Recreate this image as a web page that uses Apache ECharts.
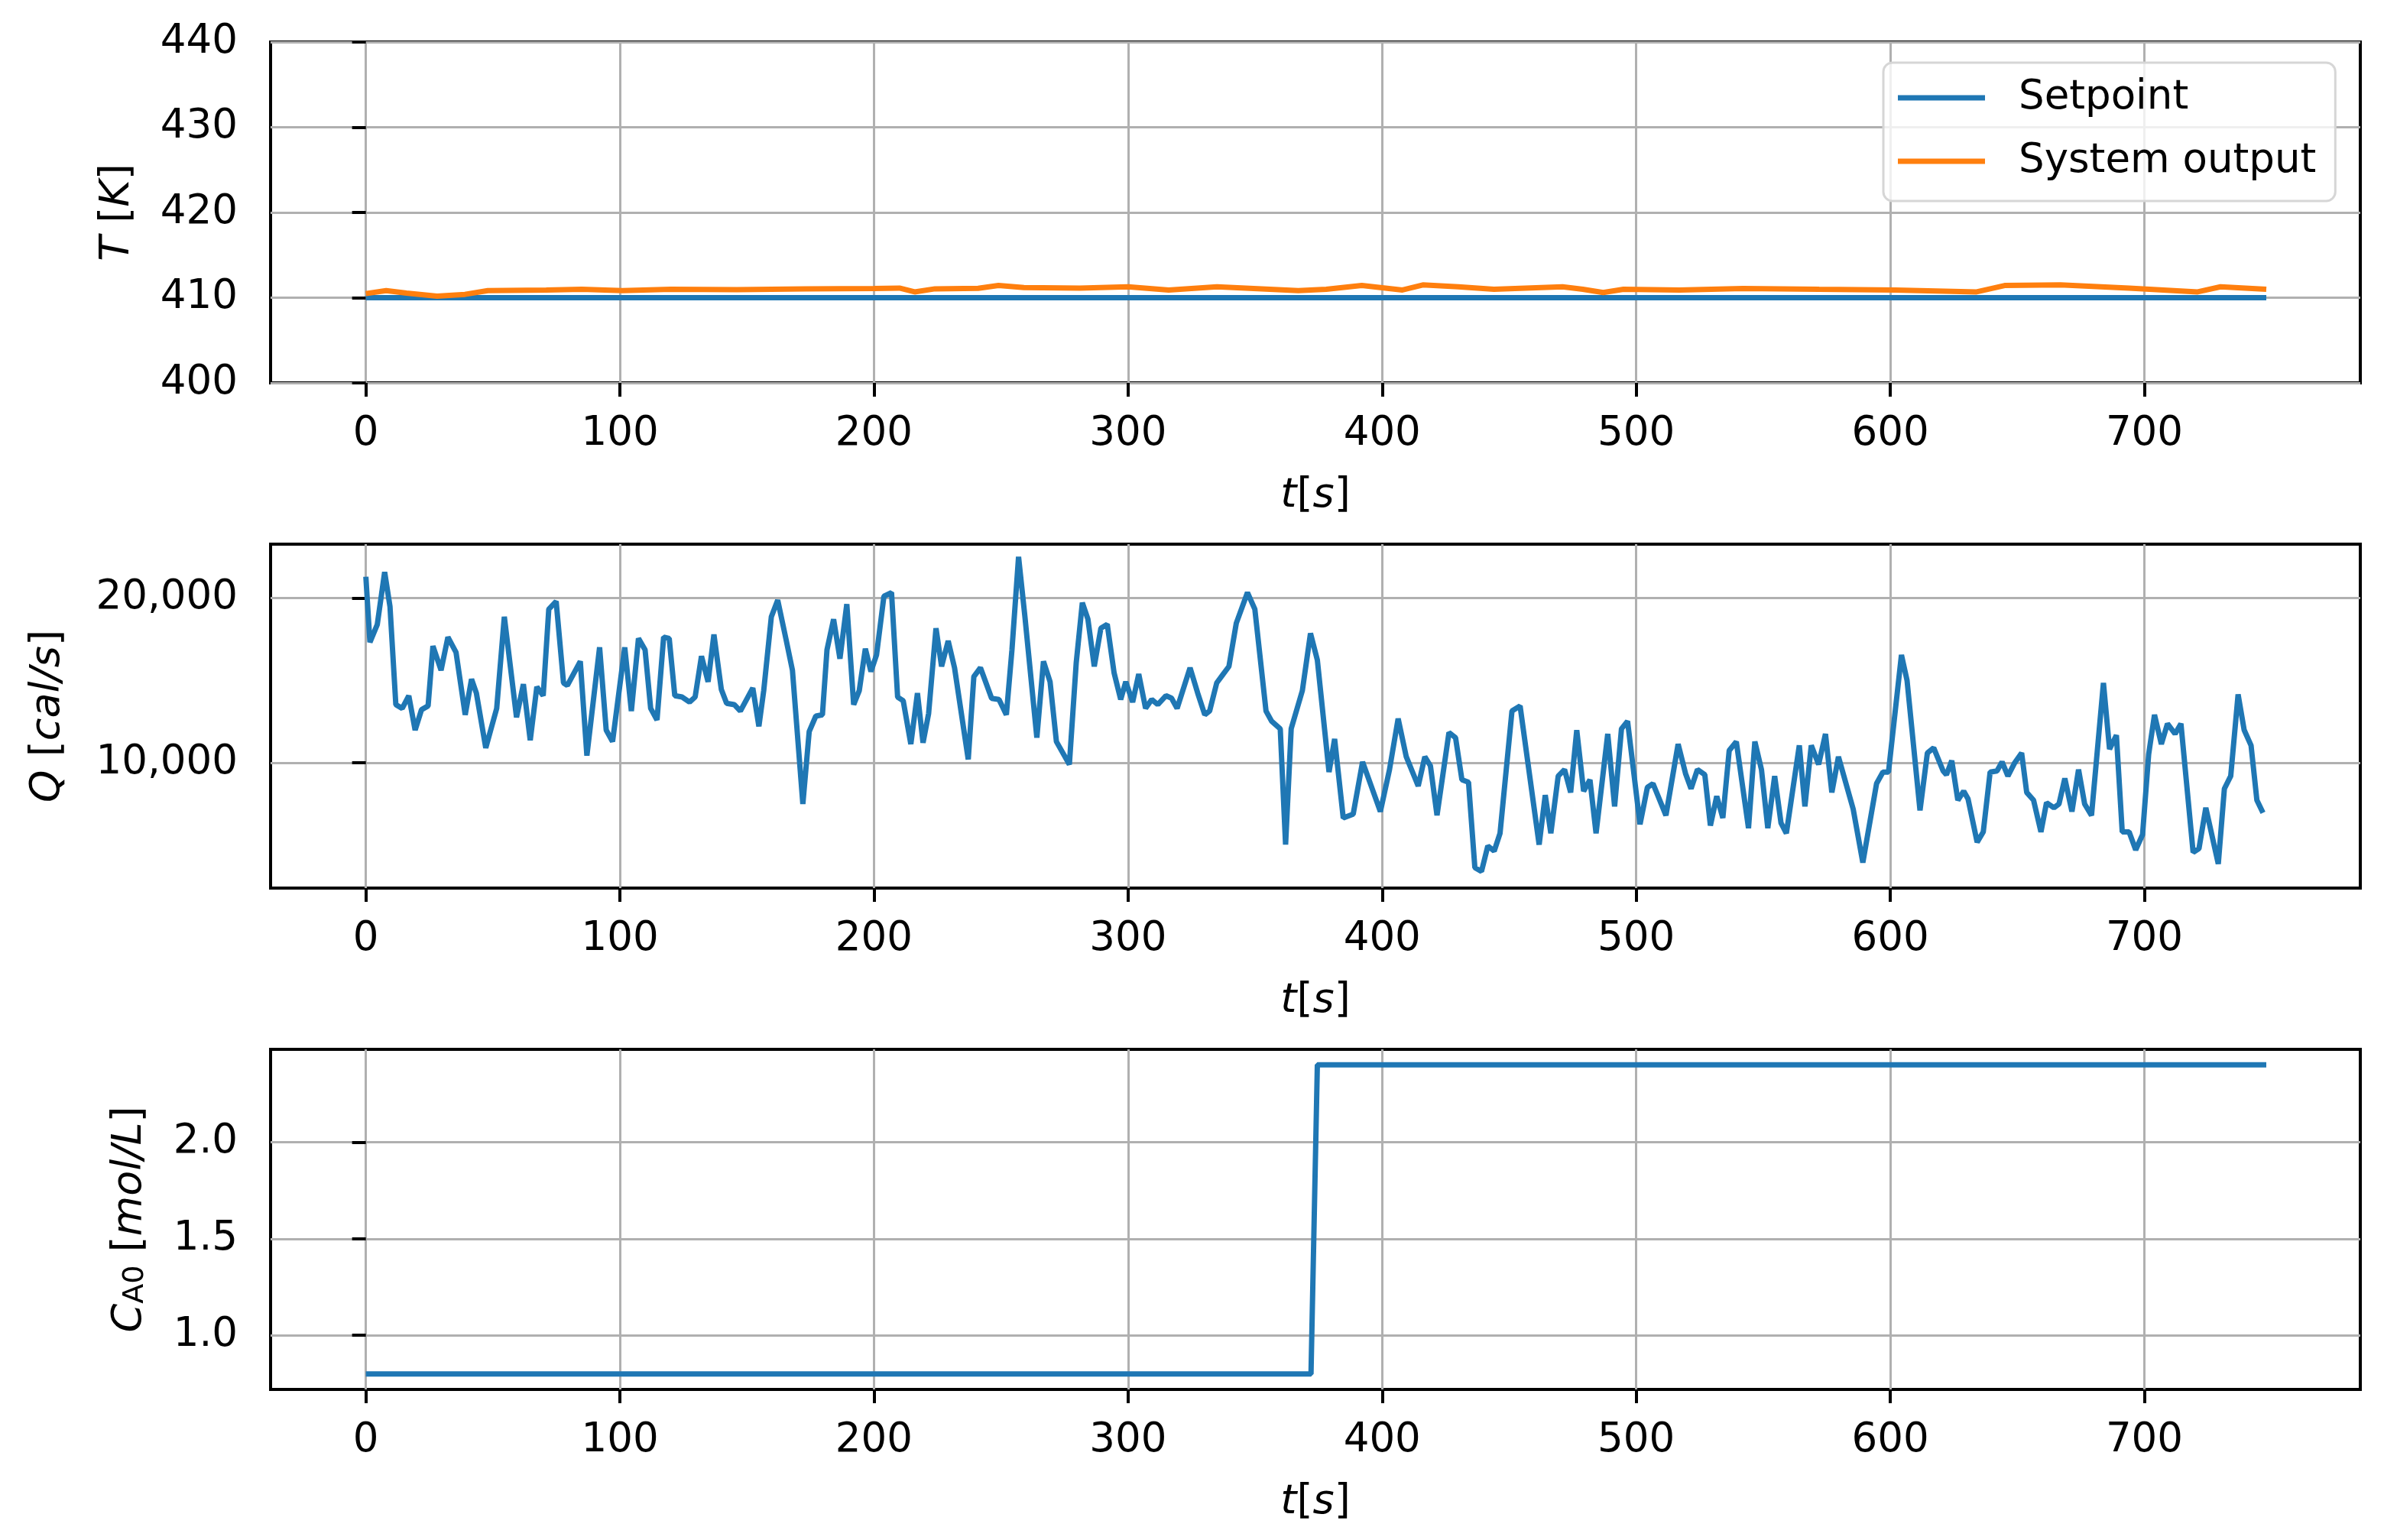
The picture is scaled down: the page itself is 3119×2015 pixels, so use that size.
<!DOCTYPE html>
<html>
<head>
<meta charset="utf-8">
<script src="https://cdn.jsdelivr.net/npm/echarts@6/dist/echarts.min.js"></script>
<style>
html,body{margin:0;padding:0;background:#fff;}
#chart{width:3119px;height:2015px;}
</style>
</head>
<body>
<div id="chart"></div>
<script>
// ---------- data ----------
const xTicks = [0, 100, 200, 300, 400, 500, 600, 700];
const tTicks = [400, 410, 420, 430, 440];
const qTicks = [10000, 20000];
const caTicks = [1.0, 1.5, 2.0];

const setT = [0, 748];
const setV = [410, 410];

const outT = [0, 8, 16, 28, 39, 48, 71, 85, 101, 120, 146, 173, 200, 210, 216, 224, 241, 249, 259, 281, 300, 316, 335, 367, 378, 392, 408, 416, 430, 444, 471, 479, 487, 495, 517, 542, 572, 602, 634, 645, 667, 694, 721, 730, 748];
const outV = [410.48, 410.83, 410.54, 410.18, 410.39, 410.83, 410.9, 410.98, 410.83, 410.98, 410.95, 411.04, 411.07, 411.13, 410.68, 411.04, 411.1, 411.43, 411.19, 411.13, 411.28, 410.9, 411.28, 410.83, 410.98, 411.43, 410.9, 411.5, 411.28, 410.98, 411.28, 410.98, 410.6, 410.98, 410.9, 411.07, 410.98, 410.9, 410.68, 411.43, 411.5, 411.13, 410.68, 411.28, 410.98];

const qT = [0, 1.6, 4.5, 7.4, 9.5, 11.8, 14.3, 16.9, 19.4, 21.9, 24.5, 26.4, 29.6, 32.3, 35.5, 39.1, 41.6, 43.5, 47.2, 51.5, 54.5, 59.3, 62, 64.7, 67.3, 69.8, 72, 74.9, 77.8, 79.3, 84.4, 87, 92, 94.6, 97.1, 101.9, 104.5, 107.3, 109.9, 112.1, 114.6, 117.2, 119.4, 121.6, 124.5, 127.4, 129.6, 132.1, 134.7, 137, 139.9, 142, 145, 147.4, 152.3, 154.7, 156.6, 159.6, 162.1, 165.4, 167.9, 172, 174.5, 177.1, 179.7, 181.5, 184.1, 186.6,
  189.3, 192, 194.2, 196.6, 198.8, 201, 203.9, 206.9, 209.3, 211.5, 214.5, 217.1, 219.3, 221.5, 224.4, 226.6, 229.2, 231.7, 237.1, 239.3, 241.9, 246.3, 249.2, 252.1, 254.3, 256.9, 259.4, 264.1, 266.7, 269.3, 271.8, 276.9, 279.6, 282, 284.2, 286.7, 289.3, 291.8, 294.5, 297.1, 299.1, 301.8, 304.2, 306.9, 309.3, 311.7, 314.9, 317.1, 319.3, 324.4, 327.4, 330.2, 332.1, 334.9, 337.1, 339.7, 342.6, 347, 349.9, 354.3, 356.5, 359.9, 362, 364.2, 368.6, 371.8, 374.5, 379.1, 381.3, 384.7, 388.6, 392.3,
  399.3, 402.9, 406.3, 409.5, 414.2, 416.8, 419, 421.6, 426.3, 428.9, 431.4, 434, 436.5, 439.1, 441.6, 444.1, 446.4, 451.1, 454.3, 461.8, 464.2, 466.4, 469.3, 471.8, 474.2, 476.6, 479.3, 481.8, 484.2, 488.8, 491.5, 494.2, 496.6, 501.5, 504.4, 506.6, 511.7, 516.5, 519.4, 521.6, 524.1, 527, 529.2, 531.7, 534.1, 536.6, 539.4, 544.2, 546.7, 549.3, 551.8, 554.5, 557, 559.1, 564.2, 566.4, 568.9, 571.8, 574.5, 577, 579.6, 585.4, 589.2, 594.6, 597.1, 599.3, 604.4, 606.6, 611.7, 614.6, 617.1,
  620.8, 622.1, 624.2, 626.6, 628.9, 630.6, 634.2, 636.6, 639.3, 642, 644, 646.3, 649, 651.7, 653.7, 656.4, 659.3, 661.5, 664.4, 666.4, 668.7, 671.5, 674.1, 676.5, 679.2, 683.9, 686.3, 689, 691.3, 694, 696.6, 699.3, 701.7, 704, 706.7, 709.1, 712.1, 714.4, 719.2, 721.5, 724.2, 729.1, 731.5, 734, 736.9, 739.3, 742, 744.3, 746.7];
const qV = [21300, 17320, 18400, 21580, 19490, 13530, 13300, 14070, 11980, 13220, 13450, 17090, 15620, 17630, 16700, 12910, 15080, 14230, 10900, 13300, 18870, 12760, 14770, 11360, 14610, 14070, 19330, 19800, 14850, 14690, 16160, 10430, 17010, 11980, 11280, 17010, 13140, 17550, 16860, 13300, 12600, 17630, 17550, 14070, 13990, 13680, 13990, 16470, 14920, 17790, 14460, 13610, 13530, 13140, 14540, 12210, 14380, 18870, 19880, 17480, 15620, 7490, 11900, 12830, 12910, 16860, 18720, 16320,
  19640, 13530, 14380, 16930, 15540, 16550, 20110, 20340, 13990, 13760, 11130, 14230, 11210, 12990, 18170, 15850, 17400, 15770, 10200, 15230, 15770, 13910, 13840, 12910, 16860, 22510, 18870, 11520, 16160, 14920, 11280, 9890, 16080, 19720, 18720, 15850, 18170, 18410, 15460, 13840, 14920, 13680, 15390, 13300, 13840, 13530, 14070, 13920, 13300, 15770, 14230, 12910, 13140, 14850, 15310, 15850, 18480, 20340, 19330, 13140, 12520, 12060, 5020, 12060, 14380, 17860, 16240, 9430, 11440, 6640, 6870, 10050,
  7030, 9580, 12680, 10360, 8580, 10360, 9810, 6800, 11830, 11520, 8960, 8810, 3620, 3390, 4940, 4630, 5710, 13140, 13450, 5020, 8030, 5710, 9190, 9580, 8190, 11980, 8270, 8960, 5710, 11750, 7340, 12060, 12520, 6250, 8500, 8730, 6800, 11130, 9350, 8420, 9580, 9270, 6180, 7960, 6640, 10740, 11280, 6020, 11280, 9580, 6020, 9190, 6330, 5710, 11050, 7340, 11050, 9890, 11750, 8190, 10360, 7180, 3930, 8730, 9430, 9430, 16550, 15000, 7100, 10590, 10900,
  9500, 9270, 10120, 7720, 8270, 7800, 5170, 5790, 9430, 9500, 10050, 9190, 10000, 10590, 8190, 7720, 5790, 7570, 7260, 7490, 9040, 7030, 9580, 7490, 6800, 14850, 10820, 11670, 5790, 5790, 4700, 5630, 10510, 12910, 11130, 12370, 11750, 12370, 4550, 4780, 7260, 3850, 8420, 9190, 14150, 11980, 11050, 7720, 6950];

const caT = [0, 372, 374.5, 748];
const caV = [0.8, 0.8, 2.4, 2.4];

// ---------- helpers ----------
const FF = 'DejaVu Sans';
const zip = (a, b) => a.map((v, i) => [v, b[i]]);
const BLUE = '#1f77b4', ORANGE = '#ff7f0e';
const GRID_L = 354, GRID_W = 2734;
const grids = [
  {top: 55, height: 446},
  {top: 712, height: 450},
  {top: 1373, height: 445}
];

const richStyles = {
  i: {fontStyle: 'italic', fontSize: 54, fontFamily: FF, color: '#000'},
  sub: {fontSize: 38, fontFamily: FF, color: '#000', padding: [14, 0, 0, 0]}
};
const nameStyle = {fontSize: 54, fontFamily: FF, color: '#000', rich: richStyles};

function xAxis(gi) {
  return {
    type: 'value', gridIndex: gi, min: -37.5, max: 785,
    axisLine: {show: false},
    axisTick: {show: true, length: 18, lineStyle: {color: '#000', width: 4}, customValues: xTicks},
    axisLabel: {customValues: xTicks, margin: 41, fontSize: 53, color: '#000', fontFamily: FF},
    splitLine: {show: true, lineStyle: {color: '#b0b0b0', width: 3}},
    name: '{i|t}[{i|s}]', nameLocation: 'middle', nameGap: 121, nameTextStyle: nameStyle
  };
}
function yAxis(gi, min, max, ticks, fmt, name, gap) {
  return {
    type: 'value', gridIndex: gi, min: min, max: max,
    axisLine: {show: false},
    axisTick: {show: true, length: 18, lineStyle: {color: '#000', width: 4}, customValues: ticks},
    axisLabel: {customValues: ticks, margin: 43, fontSize: 53, color: '#000', fontFamily: FF, formatter: fmt},
    splitLine: {show: true, lineStyle: {color: '#b0b0b0', width: 3}},
    name: name, nameLocation: 'middle', nameRotate: 90, nameGap: gap, nameTextStyle: nameStyle
  };
}

const chart = echarts.init(document.getElementById('chart'), null, {renderer: 'canvas'});
chart.setOption({
  animation: false,
  backgroundColor: '#fff',
  grid: grids.map(g => ({left: GRID_L, width: GRID_W, top: g.top, height: g.height, show: true, borderColor: '#000', borderWidth: 4, backgroundColor: '#fff'})),
  xAxis: [xAxis(0), xAxis(1), xAxis(2)],
  yAxis: [
    yAxis(0, 400, 440, tTicks, v => String(v), '{i|T} [{i|K}]', 173),
    yAxis(1, 2380, 23280, qTicks, v => v.toLocaleString('en-US'), '{i|Q} [{i|cal/s}]', 264),
    yAxis(2, 0.72, 2.48, caTicks, v => v.toFixed(1), '{i|C}{sub|A0} [{i|mol/L}]', 157)
  ],
  legend: {
    data: ['Setpoint', 'System output'],
    orient: 'vertical', left: 2464, top: 82,
    padding: [16, 25, 22, 19],
    itemWidth: 114, itemHeight: 7, itemGap: 23, icon: 'rect',
    backgroundColor: 'rgba(255,255,255,0.8)', borderColor: '#d6d6d6', borderWidth: 3, borderRadius: 12,
    textStyle: {fontSize: 53, fontFamily: FF, color: '#000', padding: [0, 0, 0, 39], lineHeight: 60}
  },
  series: [
    {name: 'Setpoint', type: 'line', xAxisIndex: 0, yAxisIndex: 0, data: zip(setT, setV), showSymbol: false, lineStyle: {color: BLUE, width: 7}, itemStyle: {color: BLUE}},
    {name: 'System output', type: 'line', xAxisIndex: 0, yAxisIndex: 0, data: zip(outT, outV), showSymbol: false, lineStyle: {color: ORANGE, width: 7}, itemStyle: {color: ORANGE}},
    {name: 'Q', type: 'line', xAxisIndex: 1, yAxisIndex: 1, data: zip(qT, qV), showSymbol: false, lineStyle: {color: BLUE, width: 7}, itemStyle: {color: BLUE}},
    {name: 'CA0', type: 'line', xAxisIndex: 2, yAxisIndex: 2, data: zip(caT, caV), showSymbol: false, lineStyle: {color: BLUE, width: 7}, itemStyle: {color: BLUE}}
  ]
});
</script>
</body>
</html>
